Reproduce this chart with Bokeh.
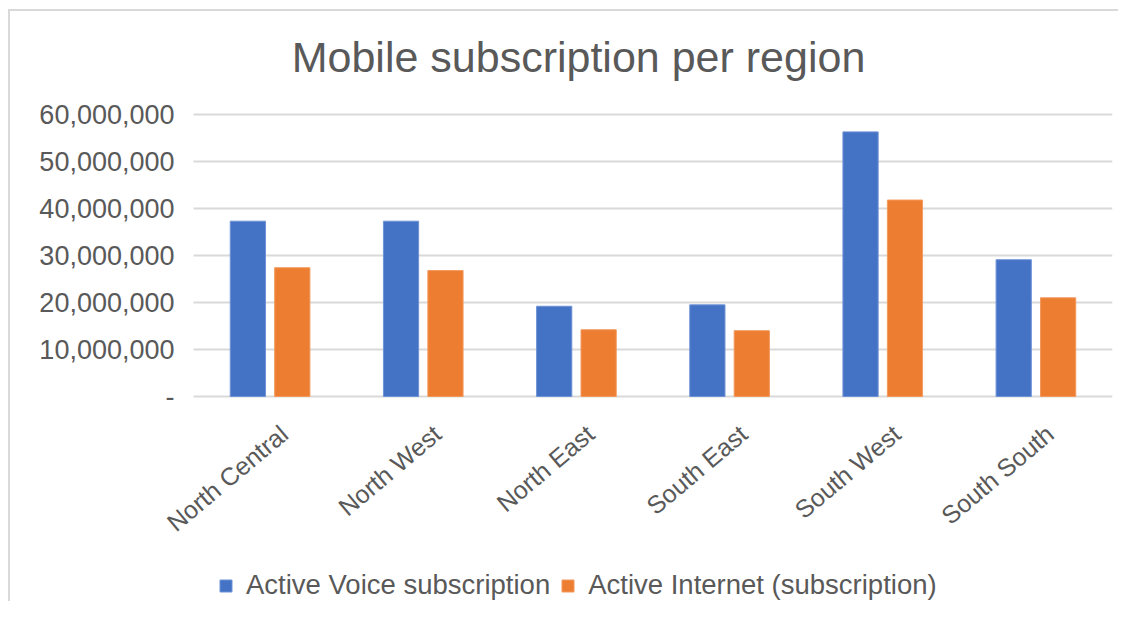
from bokeh.plotting import figure
from bokeh.models import ColumnDataSource, Legend, LegendItem, Range1d, InlineStyleSheet
from bokeh.core.properties import value
from bokeh.transform import dodge
from bokeh.embed import file_html
from bokeh.resources import INLINE

title_text = "Mobile subscription per region"
regions = ["North Central", "North West", "North East", "South East", "South West", "South South"]
voice = [37300000, 37300000, 19200000, 19500000, 56300000, 29100000]
internet = [27400000, 26800000, 14200000, 14000000, 41800000, 21000000]
y_ticks = [0, 10000000, 20000000, 30000000, 40000000, 50000000, 60000000]
y_tick_labels = ["-", "10,000,000", "20,000,000", "30,000,000", "40,000,000", "50,000,000", "60,000,000"]
series_labels = ["Active Voice subscription", "Active Internet (subscription)"]

FONT = "Liberation Sans"
GRAY = "#595959"
GRID = "#d9d9d9"

# layout geometry (pixels inside the 1118x601 figure)
W, H = 1118, 601
PLOT_L, PLOT_R, PLOT_T, PLOT_B = 193, 1112, 114, 396   # value-axis area
FRAME_L = 20                                            # frame extends left for the labels
BAND = (PLOT_R - PLOT_L) / len(regions)
Y_MAX = 60000000
PX = Y_MAX / (PLOT_B - PLOT_T)                          # value units per pixel
Y_TOP = Y_MAX + PX * PLOT_T
Y_MIN = -PX * (H - PLOT_B)

n = len(regions)
idx = list(range(n))
source = ColumnDataSource(dict(regions=regions, idx=idx, voice=voice, internet=internet))
tick_src = ColumnDataSource(dict(y=y_ticks, label=y_tick_labels))

p = figure(width=W, height=H, title=None,
           x_range=Range1d(-0.5 - (PLOT_L - FRAME_L) / BAND, n - 0.5),
           y_range=Range1d(Y_MIN, Y_TOP),
           x_axis_location=None, y_axis_location=None,
           output_backend="svg", toolbar_location=None,
           min_border_left=FRAME_L, min_border_right=W - PLOT_R, min_border_top=0,
           min_border_bottom=0)
p.xgrid.grid_line_color = None
p.ygrid.grid_line_color = None
p.outline_line_color = None

# horizontal gridlines across the value area
p.segment(x0=-0.5, x1=n - 0.5, y0="y", y1="y", source=tick_src, line_color=GRID, line_width=2)

# value-axis labels
p.text(x=-0.5, y="y", text="label", source=tick_src, x_offset=-19,
       text_align="right", text_baseline="middle", text_font=value(FONT),
       text_font_size="27px", text_color=GRAY)

r1 = p.vbar(x=dodge("idx", -0.145), top="voice", width=0.23,
            source=source, fill_color="#4472C4", line_color="#6f93d6", line_width=1)
r2 = p.vbar(x=dodge("idx", 0.145), top="internet", width=0.23,
            source=source, fill_color="#ED7D31", line_color="#f29a5e", line_width=1)

# rotated category labels
p.text(x="idx", y=0, text="regions", source=source, angle=0.70,
       x_offset=5, y_offset=23, text_align="right", text_baseline="top",
       text_font=value(FONT), text_font_size="25px", text_color=GRAY)

# chart title
p.text(x=-0.5, y=Y_MAX, text=value(title_text), x_offset=385, y_offset=-58,
       text_align="center", text_baseline="alphabetic", text_font=value(FONT),
       text_font_size="43px", text_color=GRAY)

legend = Legend(items=[LegendItem(label=series_labels[0], renderers=[r1]),
                       LegendItem(label=series_labels[1], renderers=[r2])],
                orientation="horizontal", location=(218 - FRAME_L, 0), padding=0, margin=0,
                border_line_color=None, background_fill_alpha=0,
                label_text_font=FONT, label_text_font_size="27.5px", label_text_color=GRAY,
                glyph_width=15, glyph_height=15, label_standoff=13, spacing=10)
p.add_layout(legend)

p.stylesheets = [InlineStyleSheet(css="""
:host { position: relative; }
:host::after { content: ''; position: absolute; left: 8px; top: 9px; right: 0px; bottom: 0px;
  border-left: 2px solid #d9d9d9; border-top: 2px solid #d9d9d9; pointer-events: none; z-index: 10; }
""")]

open("out.html", "w").write(file_html(p, INLINE))
